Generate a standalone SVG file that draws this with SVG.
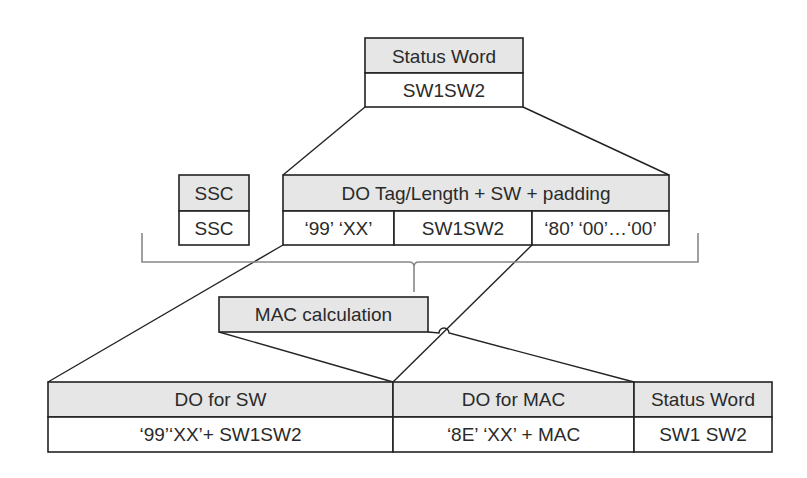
<svg xmlns="http://www.w3.org/2000/svg" width="807" height="478" viewBox="0 0 807 478">
<style>
.hd{fill:#e6e6e6;stroke:#222;stroke-width:1.6}
.bd{fill:#fff;stroke:#222;stroke-width:1.6}
.t{font-family:"Liberation Sans",Arial,sans-serif;font-size:19px;fill:#2a2a2a;text-anchor:middle;dominant-baseline:central}
.ln{fill:none;stroke:#222;stroke-width:1.4}
.br{fill:none;stroke:#888;stroke-width:1.6}
</style>
<rect width="807" height="478" fill="#fff"/>
<g id="connectors">
<line class="ln" x1="365" y1="107" x2="283" y2="175"/>
<line class="ln" x1="523" y1="107" x2="669" y2="175"/>
<line class="ln" x1="283" y1="245" x2="48" y2="382"/>
<line class="ln" x1="532" y1="245" x2="393" y2="382"/>
<line class="ln" x1="219" y1="332" x2="393" y2="382"/>
<path class="ln" d="M428,332 L439,333 A5,5 0 0 1 449,333 L634,382"/>
<path class="br" d="M142,233 V262 H409 Q414,262 414,267 V292 M414,267 Q414,262 419,262 H698 V233"/>
</g>
<g id="status-word-top">
<rect class="hd" x="365" y="38" width="158" height="35"/>
<rect class="bd" x="365" y="73" width="158" height="34"/>
<text class="t" x="444" y="56">Status Word</text>
<text class="t" x="444" y="90">SW1SW2</text>
</g>
<g id="ssc">
<rect class="hd" x="179" y="175" width="70" height="36"/>
<rect class="bd" x="179" y="211" width="70" height="34"/>
<text class="t" x="214" y="193">SSC</text>
<text class="t" x="214" y="228">SSC</text>
</g>
<g id="do-tag">
<rect class="hd" x="283" y="175" width="386" height="36"/>
<rect class="bd" x="283" y="211" width="111" height="34"/>
<rect class="bd" x="394" y="211" width="138" height="34"/>
<rect class="bd" x="532" y="211" width="137" height="34"/>
<text class="t" x="476" y="193">DO Tag/Length + SW + padding</text>
<text class="t" x="338.5" y="228">‘99’ ‘XX’</text>
<text class="t" x="463" y="228">SW1SW2</text>
<text class="t" x="600.5" y="228">‘80’ ‘00’…‘00’</text>
</g>
<g id="mac-calculation">
<rect class="hd" x="219" y="297" width="209" height="35"/>
<text class="t" x="323.5" y="314.5">MAC calculation</text>
</g>
<g id="do-for-sw">
<rect class="hd" x="48" y="382" width="345" height="35"/>
<rect class="bd" x="48" y="417" width="345" height="35"/>
<text class="t" x="220.5" y="399.5">DO for SW</text>
<text class="t" x="220.5" y="434.5">‘99’‘XX’+ SW1SW2</text>
</g>
<g id="do-for-mac">
<rect class="hd" x="393" y="382" width="241" height="35"/>
<rect class="bd" x="393" y="417" width="241" height="35"/>
<text class="t" x="513.5" y="399.5">DO for MAC</text>
<text class="t" x="513.5" y="434.5">‘8E’ ‘XX’ + MAC</text>
</g>
<g id="status-word-bottom">
<rect class="hd" x="634" y="382" width="138" height="35"/>
<rect class="bd" x="634" y="417" width="138" height="35"/>
<text class="t" x="703" y="399.5">Status Word</text>
<text class="t" x="703" y="434.5">SW1 SW2</text>
</g>
</svg>
